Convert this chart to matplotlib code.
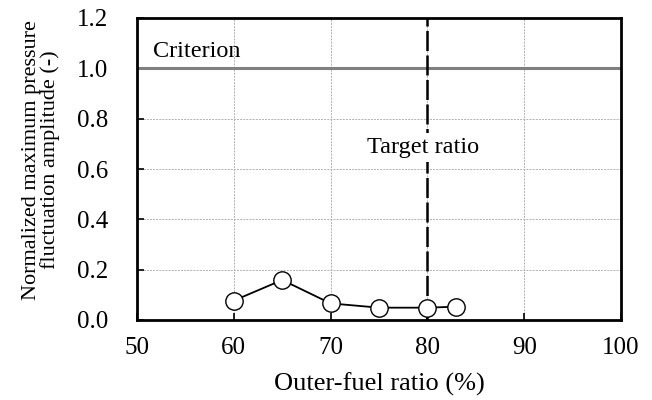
import numpy as np
import matplotlib.pyplot as plt

plt.rcParams['font.family'] = ['Liberation Serif', 'DejaVu Serif']

ratio = [60, 65, 70, 75, 80, 83]
amplitude = [0.077, 0.159, 0.066, 0.049, 0.049, 0.053]
criterion = 1.0
target = 80
xticks = [50, 60, 70, 80, 90, 100]
yticks = [0.0, 0.2, 0.4, 0.6, 0.8, 1.0, 1.2]

fig = plt.figure(figsize=(6.52, 4.0), dpi=100)
ax = fig.add_axes([137/652, 1-320/400, (621-137)/652, (320-18)/400])

ax.grid(True, color='#b0b0b0', linestyle=(0, (2, 1.2)), linewidth=0.7)
ax.set_axisbelow(True)

ax.axhline(criterion, color='#808080', linewidth=2.2, zorder=2)
ax.plot([target, target], [0, 1.2], color='black', linewidth=1.8,
        dashes=(8, 1.8), zorder=3)
ax.plot(ratio, amplitude, color='black', linewidth=1.3, marker='o',
        markersize=12.5, markerfacecolor='white', markeredgecolor='black',
        markeredgewidth=1.0, zorder=4)

ax.text(51.65, 1.045, 'Criterion', fontsize=17.5, ha='left', va='baseline')
ax.text(79.6, 0.663, 'Target ratio', fontsize=17.5, ha='center', va='baseline',
        bbox=dict(facecolor='white', edgecolor='none', pad=3))

ax.set_xlim(50, 100)
ax.set_ylim(0, 1.2)
ax.set_xticks(xticks)
ax.set_yticks(yticks)
ax.set_yticklabels(['%.1f' % v for v in yticks])
ax.tick_params(direction='in', labelsize=18, length=5, width=1.2)
ax.tick_params(axis='x', pad=12)
ax.tick_params(axis='y', pad=21)
for s in ax.spines.values():
    s.set_linewidth(2)

ax.set_xlabel('Outer-fuel ratio (%)', fontsize=19, labelpad=10)
ax.set_ylabel('Normalized maximum pressure\nfluctuation amplitude (-)',
              fontsize=16, linespacing=0.95)
ax.yaxis.set_label_coords(-0.159, 0.53)

fig.savefig('out.png', dpi=100)
